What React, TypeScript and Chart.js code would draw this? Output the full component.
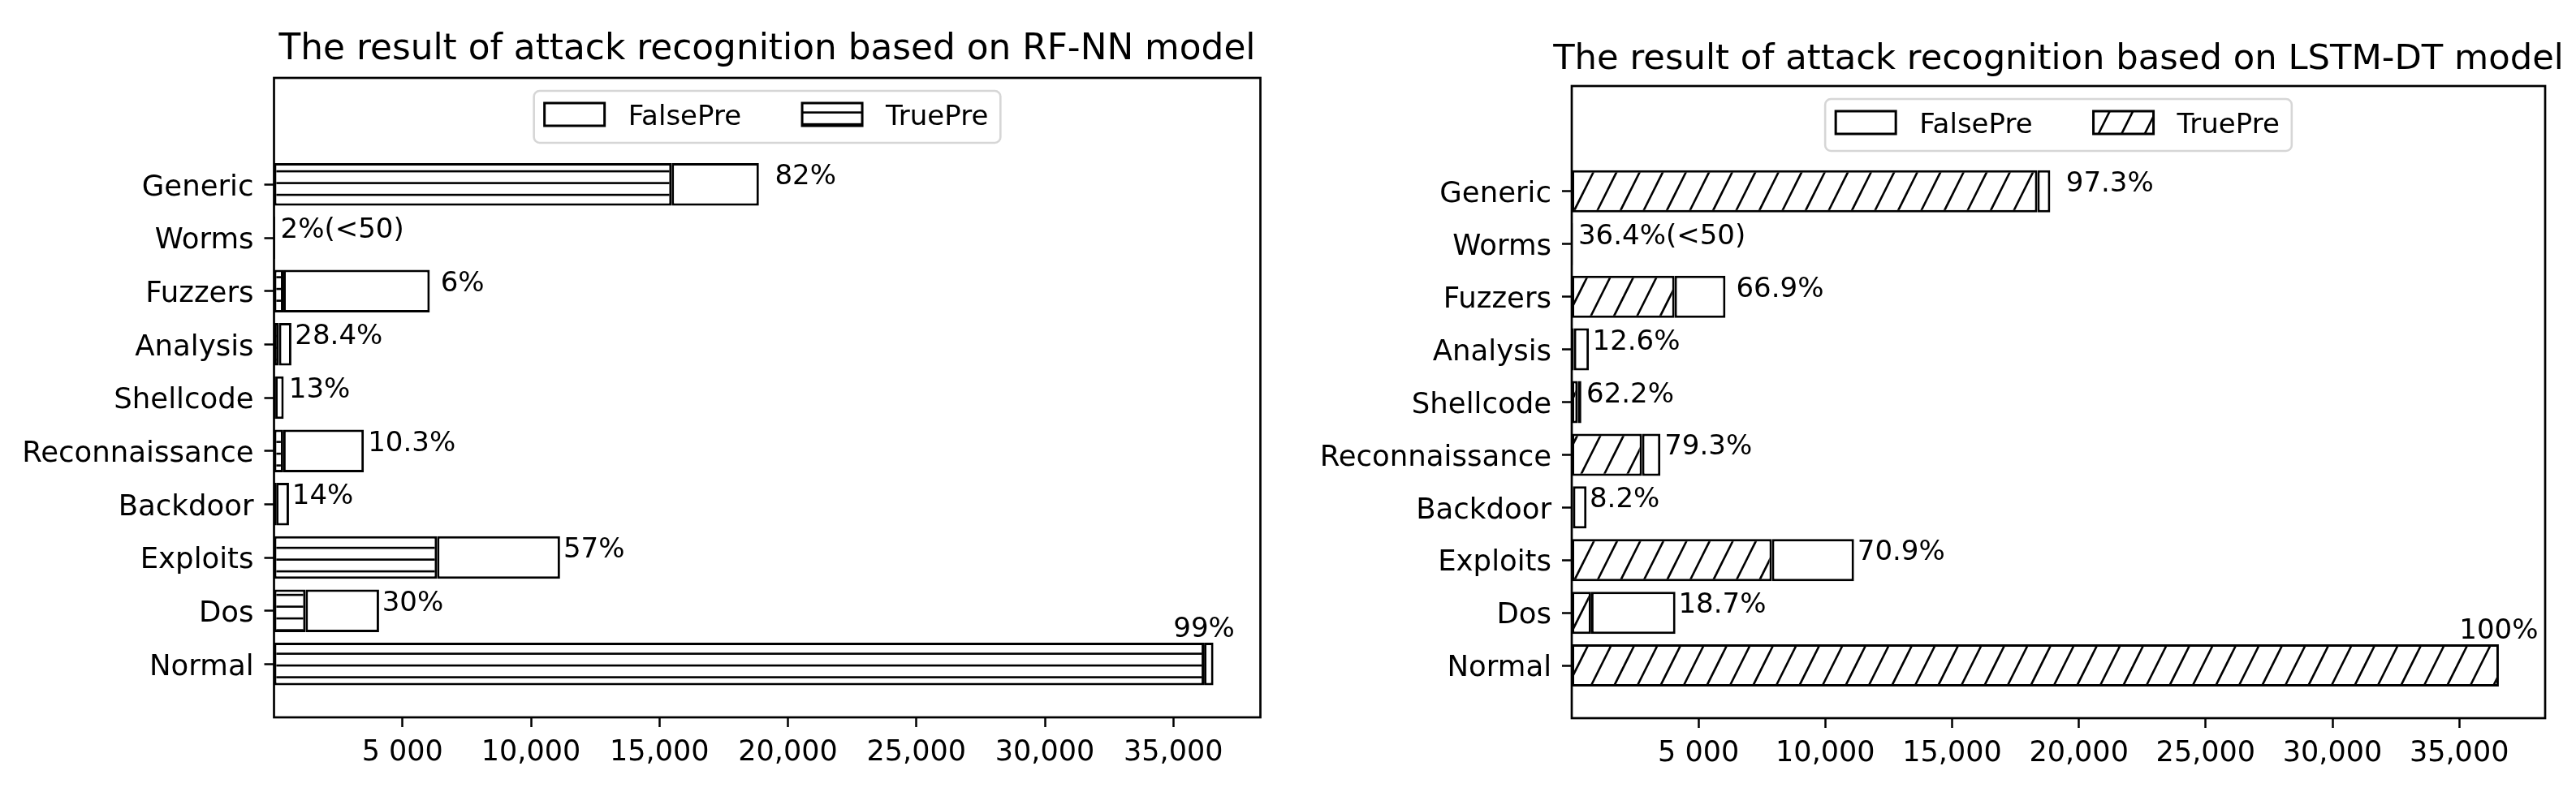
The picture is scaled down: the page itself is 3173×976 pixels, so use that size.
import React, { useEffect, useRef } from 'react';
import { Chart, registerables } from 'chart.js';
Chart.register(...registerables);

// ---- data (bottom to top) ----
const categories = ['Normal', 'Dos', 'Exploits', 'Backdoor', 'Reconnaissance', 'Shellcode', 'Analysis', 'Fuzzers', 'Worms', 'Generic'];
const rfTrue = [36194, 1227, 6345, 82, 360, 49, 192, 364, 1, 15474];
const rfFalse = [366, 2862, 4787, 501, 3136, 329, 485, 5698, 43, 3397];
const rfLabels = ['99%', '30%', '57%', '14%', '10.3%', '13%', '28.4%', '6%', '2%(<50)', '82%'];
const lstmTrue = [36560, 765, 7893, 48, 2772, 235, 85, 4055, 16, 18361];
const lstmFalse = [0, 3324, 3239, 535, 724, 143, 592, 2007, 28, 510];
const lstmLabels = ['100%', '18.7%', '70.9%', '8.2%', '79.3%', '62.2%', '12.6%', '66.9%', '36.4%(<50)', '97.3%'];
const xTickValues = [5000, 10000, 15000, 20000, 25000, 30000, 35000];
const xTickLabels = ['5 000', '10,000', '15,000', '20,000', '25,000', '30,000', '35,000'];
const legendNames = ['FalsePre', 'TruePre'];
const titles = ['The result of attack recognition based on RF-NN model', 'The result of attack recognition based on LSTM-DT model'];

// label placement config (not data)
const labelGap = [0, 120, 130, 120, 160, 200, 140, 420, 210, 620];
const labelAbove = [true, false, false, false, false, false, false, false, false, false];

const FONT = '"DejaVu Sans", "Liberation Sans", sans-serif';

function hLinePattern(ctx: CanvasRenderingContext2D) {
  const c = document.createElement('canvas');
  c.width = 8; c.height = 29;
  const g = c.getContext('2d')!;
  g.fillStyle = '#fff'; g.fillRect(0, 0, 8, 29);
  g.fillStyle = '#000';
  g.fillRect(0, 8.1 - 1.3, 8, 2.6);
  g.fillRect(0, 22.6 - 1.3, 8, 2.6);
  return ctx.createPattern(c, 'repeat')!;
}

function diagPattern(ctx: CanvasRenderingContext2D) {
  const S = 57;
  const c = document.createElement('canvas');
  c.width = S; c.height = S;
  const g = c.getContext('2d')!;
  g.fillStyle = '#fff'; g.fillRect(0, 0, S, S);
  g.strokeStyle = '#000'; g.lineWidth = 2.6;
  for (const a of [-44.25, -15.75, 12.75, 41.25, 69.75]) {
    g.beginPath();
    g.moveTo(a + (S + 6) * 0.5, -6);
    g.lineTo(a - 3, S + 6);
    g.stroke();
  }
  return ctx.createPattern(c, 'repeat')!;
}

const overlayPlugin = {
  id: 'overlay',
  afterDatasetsDraw(chart: any) {
    const cfg = chart.options.plugins.overlay;
    const { ctx, chartArea: a } = chart;
    const x = chart.scales.x, y = chart.scales.y;
    ctx.save();
    // spines
    ctx.strokeStyle = '#000';
    ctx.lineWidth = 2.7;
    ctx.strokeRect(a.left, a.top, a.right - a.left, a.bottom - a.top);

    // value labels
    ctx.font = `34px ${FONT}`;
    ctx.fillStyle = '#000';
    ctx.textBaseline = 'alphabetic';
    const meta = chart.getDatasetMeta(0);
    cfg.trueVals.forEach((t: number, i: number) => {
      const total = t + cfg.falseVals[i];
      const yc = y.getPixelForValue(i);
      if (labelAbove[i]) {
        const half = meta.data[i] ? meta.data[i].height / 2 : 26;
        ctx.textAlign = 'center';
        ctx.fillText(cfg.labels[i], x.getPixelForValue(t), yc - half - 7);
      } else {
        ctx.textAlign = 'left';
        ctx.fillText(cfg.labels[i], x.getPixelForValue(total + labelGap[i]), yc);
      }
    });

    // title
    const cx = (a.left + a.right) / 2;
    ctx.font = `${cfg.titleSize}px ${FONT}`;
    ctx.textAlign = 'center';
    ctx.fillText(cfg.title, cx, a.top - cfg.titleGap);

    // legend
    ctx.font = `34px ${FONT}`;
    const pad = 13, hw = 74, hh = 28, tg = 29, cg = 75;
    const w1 = ctx.measureText(legendNames[0]).width;
    const w2 = ctx.measureText(legendNames[1]).width;
    const bw = pad + hw + tg + w1 + cg + hw + tg + w2 + pad + 2;
    const bh = 64;
    const bx = cx - bw / 2;
    const by = a.top + 16;
    ctx.beginPath();
    ctx.roundRect(bx, by, bw, bh, 7);
    ctx.fillStyle = 'rgba(255,255,255,0.8)';
    ctx.fill();
    ctx.strokeStyle = '#d6d6d6';
    ctx.lineWidth = 2.6;
    ctx.stroke();
    const hc = by + 29;
    const fills = ['#fff', cfg.pattern];
    let px = bx + pad;
    [w1, w2].forEach((w, k) => {
      ctx.fillStyle = fills[k];
      ctx.fillRect(px, hc - hh / 2, hw, hh);
      ctx.strokeStyle = '#000';
      ctx.lineWidth = 3;
      ctx.strokeRect(px, hc - hh / 2, hw, hh);
      ctx.fillStyle = '#000';
      ctx.textAlign = 'left';
      ctx.fillText(legendNames[k], px + hw + tg, hc + 12.5);
      px += hw + tg + w + cg;
    });
    ctx.restore();
  },
};

function makeConfig(trueVals: number[], falseVals: number[], labels: string[], pattern: CanvasPattern, title: string, lay: any) {
  const xMax = 1.05 * Math.max(...trueVals.map((t, i) => t + falseVals[i]));
  const xfont = { family: FONT, size: 35 };
  const yfont = { family: FONT, size: 35.5 };
  return {
    type: 'bar' as const,
    data: {
      datasets: [
        {
          label: 'TruePre',
          data: trueVals.map((v, i) => ({ x: v, y: i })),
          backgroundColor: pattern,
          borderColor: '#000',
          borderWidth: 3,
          borderSkipped: false,
          categoryPercentage: 0.8,
          barPercentage: 1.0,
        },
        {
          label: 'FalsePre',
          data: falseVals.map((v, i) => ({ x: v, y: i })),
          backgroundColor: '#fff',
          borderColor: '#000',
          borderWidth: 3,
          borderSkipped: false,
          categoryPercentage: 0.8,
          barPercentage: 1.0,
        },
      ],
    },
    options: {
      indexAxis: 'y' as const,
      responsive: false,
      animation: false as const,
      layout: { padding: { top: lay.top, right: lay.right, bottom: 0, left: 0 } },
      plugins: {
        legend: { display: false },
        title: { display: false },
        tooltip: { enabled: false },
        overlay: { trueVals, falseVals, labels, title, titleGap: lay.titleGap, titleSize: lay.titleSize, pattern },
      },
      scales: {
        x: {
          type: 'linear' as const,
          stacked: true,
          offset: false,
          min: 0,
          max: xMax,
          afterBuildTicks: (s: any) => { s.ticks = xTickValues.map((v) => ({ value: v })); },
          afterFit: (s: any) => { s.height = lay.xAxisH; },
          ticks: {
            callback: (_v: any, i: number) => xTickLabels[i],
            font: xfont, color: '#000', padding: 11, maxRotation: 0, autoSkip: false,
          },
          grid: { offset: false, drawOnChartArea: false, drawTicks: true, tickLength: 12, tickWidth: 2.5, tickColor: '#000' },
          border: { display: false },
        },
        y: {
          type: 'linear' as const,
          stacked: true,
          offset: false,
          min: -1,
          max: 11,
          afterBuildTicks: (s: any) => { s.ticks = categories.map((_c, i) => ({ value: i })); },
          afterFit: (s: any) => { s.width = lay.yAxisW; },
          ticks: {
            callback: (_v: any, i: number) => categories[i],
            font: yfont, color: '#000', padding: 13, autoSkip: false, labelOffset: 4,
          },
          grid: { offset: false, drawOnChartArea: false, drawTicks: true, tickLength: 12, tickWidth: 2.5, tickColor: '#000' },
          border: { display: false },
        },
      },
    },
    plugins: [overlayPlugin],
  };
}

export default function App() {
  const leftRef = useRef<HTMLCanvasElement>(null);
  const rightRef = useRef<HTMLCanvasElement>(null);
  useEffect(() => {
    document.body.style.margin = '0';
    const lc = leftRef.current!, rc = rightRef.current!;
    const lctx = lc.getContext('2d')!, rctx = rc.getContext('2d')!;
    const c1 = new Chart(lc, makeConfig(rfTrue, rfFalse, rfLabels, hLinePattern(lctx), titles[0],
      { top: 96, right: 47.5, xAxisH: 92, yAxisW: 337.5, titleGap: 23, titleSize: 43.8 }) as any);
    const c2 = new Chart(rc, makeConfig(lstmTrue, lstmFalse, lstmLabels, diagPattern(rctx), titles[1],
      { top: 106, right: 38, xAxisH: 91, yAxisW: 336, titleGap: 21, titleSize: 43.3 }) as any);
    return () => { c1.destroy(); c2.destroy(); };
  }, []);
  return (
    <div style={{ position: 'relative', width: 3173, height: 976, background: '#fff', overflow: 'hidden' }}>
      <canvas ref={leftRef} width={1600} height={976} style={{ position: 'absolute', left: 0, top: 0, width: 1600, height: 976 }} />
      <canvas ref={rightRef} width={1573} height={976} style={{ position: 'absolute', left: 1600, top: 0, width: 1573, height: 976 }} />
    </div>
  );
}
